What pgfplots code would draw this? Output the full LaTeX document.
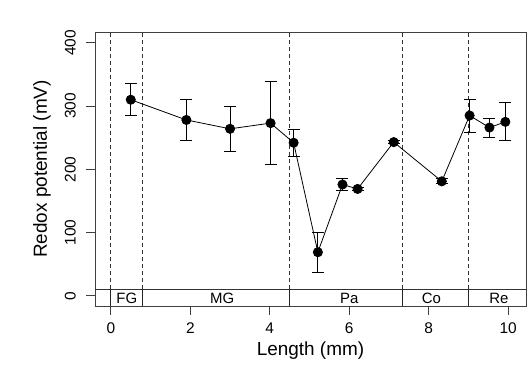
\documentclass[border=0pt]{standalone}
\usepackage{pgfplots}
\pgfplotsset{compat=1.18}
\usepackage{fontspec}
\setmainfont{Liberation Sans}

\pgfplotstableread{
x     y    e
0.50  310  25
1.90  278  32
3.00  264  35
4.02  273  66
4.60  242  21
5.21   69  32
5.83  176  10
6.21  169   3
7.12  243   2
8.33  181   4
9.03  285  26
9.53  266  15
9.93  275  30
}\redox

\begin{document}
\begin{tikzpicture}[x=1bp,y=1bp]
\useasboundingbox (0,0) rectangle (531,368);
\begin{axis}[
  at={(95bp,62bp)}, anchor=south west,
  scale only axis, width=431bp, height=274bp,
  xmin=-0.4, xmax=10.45, ymin=-16, ymax=417,
  xtick={0,2,...,10}, ytick={0,100,...,400},
  tick align=outside, major tick length=9bp,
  tick style={black!75, line width=0.8pt},
  axis line style={black!75, line width=0.9pt},
  xtick pos=bottom, ytick pos=left,
  /pgf/number format/assume math mode=true,
  xticklabel style={font=\fontsize{15.5}{15.5}\selectfont, inner sep=0pt, anchor=north},
  xticklabel shift=8bp,
  yticklabel style={font=\fontsize{15.5}{15.5}\selectfont, inner sep=0pt, rotate=90, anchor=south},
  yticklabel shift=10bp,
  xlabel={Length (mm)}, ylabel={Redox potential (mV)},
  label style={font=\fontsize{19}{19}\selectfont, inner sep=0pt},
  xlabel style={at={(axis description cs:0.5,-0.179)}, anchor=base},
  ylabel style={at={(axis description cs:-0.123,0.5)}, anchor=center, rotate=0},
  clip=false,
]
% zone band line
\addplot[black!80, line width=0.8pt] coordinates {(-0.4,11) (10.45,11)};
\pgfplotsinvokeforeach{0,0.8,4.5,7.35,9.0}{
  \addplot[black!80, line width=0.8pt, dash pattern=on 4bp off 3bp] coordinates {(#1,11) (#1,417)};
  \addplot[black!85, line width=0.9pt] coordinates {(#1,-16) (#1,11)};
}
\addplot[black, line width=0.8pt, mark=*, mark size=4.6bp,
  mark options={solid, fill=black},
  error bars/.cd, y dir=both, y explicit,
  error bar style={black, line width=0.8pt},
  error mark options={rotate=90, mark size=6bp, line width=0.8pt}]
  table[x=x, y=y, y error=e] {\redox};
\node[font=\fontsize{15}{15}\selectfont, anchor=base] at (axis cs:0.40,-12.6) {FG};
\node[font=\fontsize{15}{15}\selectfont, anchor=base] at (axis cs:2.80,-12.6) {MG};
\node[font=\fontsize{15}{15}\selectfont, anchor=base] at (axis cs:6.00,-12.6) {Pa};
\node[font=\fontsize{15}{15}\selectfont, anchor=base] at (axis cs:8.07,-12.6) {Co};
\node[font=\fontsize{15}{15}\selectfont, anchor=base] at (axis cs:9.77,-12.6) {Re};
\end{axis}
\end{tikzpicture}
\end{document}
